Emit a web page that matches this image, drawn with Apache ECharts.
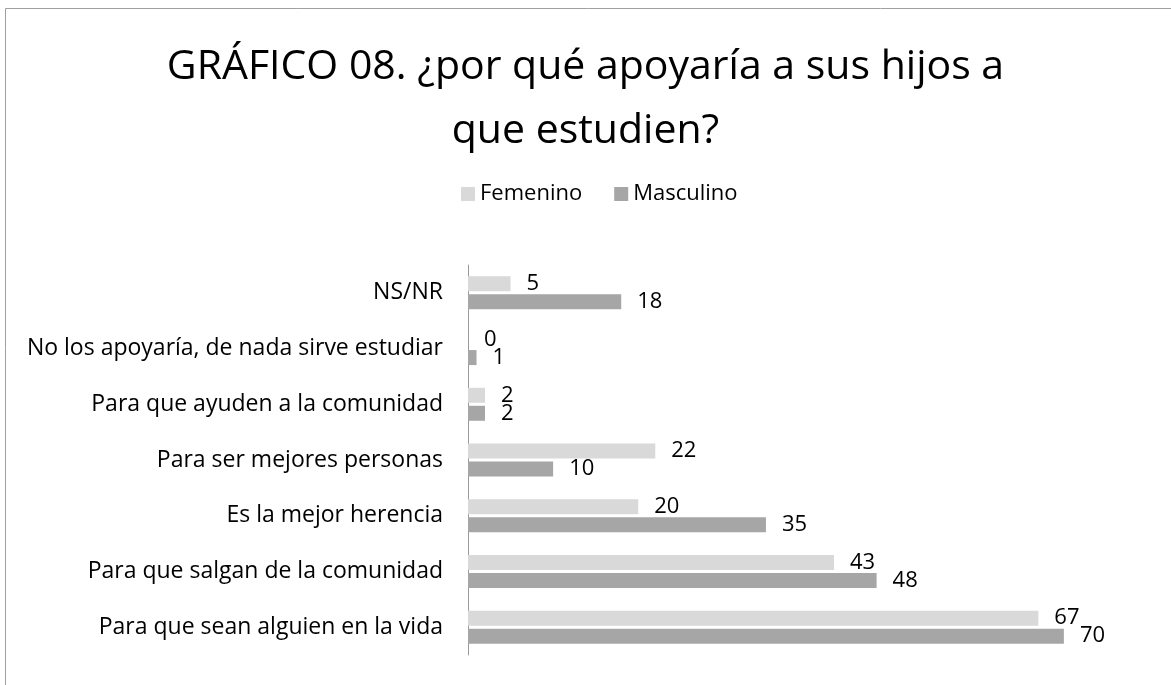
<!DOCTYPE html>
<html>
<head>
<meta charset="utf-8">
<script src="https://cdn.jsdelivr.net/npm/echarts@6/dist/echarts.min.js"></script>
<style>
html,body{margin:0;padding:0;background:#fff;}
#chart{width:1171px;height:685px;}
</style>
</head>
<body>
<div id="chart"></div>
<script>
const titleLines = ['GRÁFICO 08. ¿por qué apoyaría a sus hijos a', 'que estudien?'];
const categories = [
  'NS/NR',
  'No los apoyaría, de nada sirve estudiar',
  'Para que ayuden a la comunidad',
  'Para ser mejores personas',
  'Es la mejor herencia',
  'Para que salgan de la comunidad',
  'Para que sean alguien en la vida'
];
const seriesNames = ['Femenino', 'Masculino'];
const femenino = [5, 0, 2, 22, 20, 43, 67];
const masculino = [18, 1, 2, 10, 35, 48, 70];
const colors = ['#D9D9D9', '#A6A6A6'];

const FONT = '"Open Sans", sans-serif';
const chart = echarts.init(document.getElementById('chart'), null, {renderer: 'canvas'});

function barSeries(name, data, color) {
  return {
    name: name,
    type: 'bar',
    data: data,
    barWidth: 15,
    barGap: '20%',
    itemStyle: {color: color},
    label: {
      show: true,
      position: 'right',
      distance: 16,
      color: '#000',
      fontFamily: FONT,
      fontSize: 22
    },
    emphasis: {disabled: true},
    animation: false
  };
}

chart.setOption({
  backgroundColor: '#fff',
  animation: false,
  graphic: [{
    type: 'rect',
    shape: {x: 5.5, y: 8.5, width: 1200, height: 700},
    style: {fill: 'none', stroke: '#A0A0A0', lineWidth: 1},
    silent: true,
    z: -10
  }],
  title: {
    text: titleLines.join('\n'),
    left: 'center',
    top: 30,
    textStyle: {
      fontFamily: FONT,
      fontSize: 41,
      fontWeight: 'normal',
      color: '#000',
      lineHeight: 64
    }
  },
  legend: {
    data: seriesNames,
    left: 456,
    top: 178,
    icon: 'rect',
    itemWidth: 14,
    itemHeight: 14,
    itemGap: 32,
    textStyle: {fontFamily: FONT, fontSize: 22, color: '#000'}
  },
  grid: {left: 468, right: 22, top: 265, bottom: 30, containLabel: false},
  xAxis: {
    type: 'value',
    min: 0,
    max: 80,
    show: false,
    splitLine: {show: false}
  },
  yAxis: {
    type: 'category',
    inverse: true,
    data: categories,
    axisLine: {show: true, lineStyle: {color: '#9A9A9A', width: 1}},
    axisTick: {show: false},
    axisLabel: {
      margin: 25,
      color: '#000',
      fontFamily: FONT,
      fontSize: 23
    }
  },
  series: [
    barSeries(seriesNames[0], femenino, colors[0]),
    barSeries(seriesNames[1], masculino, colors[1])
  ]
});
</script>
</body>
</html>
